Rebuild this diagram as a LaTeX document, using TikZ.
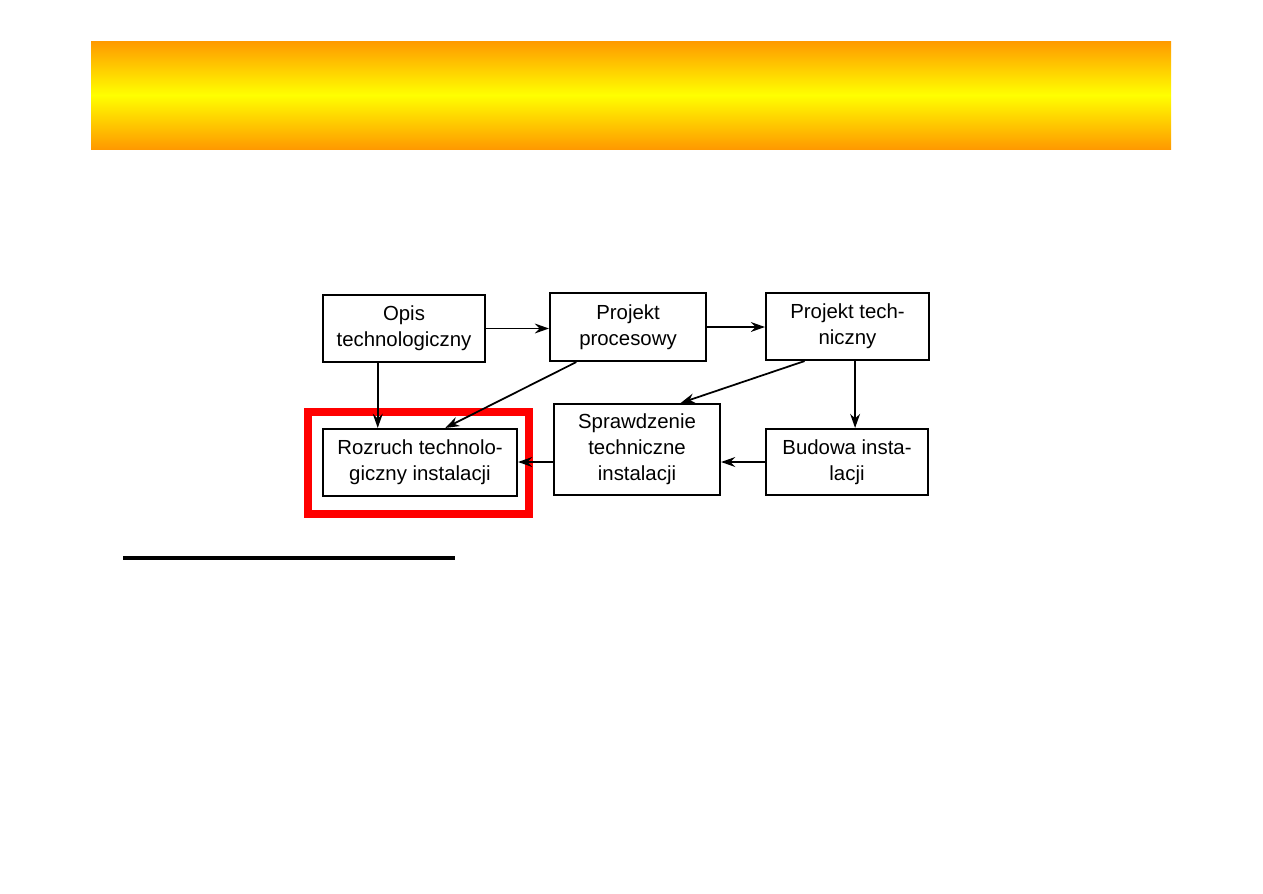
\documentclass[tikz,border=0pt]{standalone}
\usepackage{fontspec}
\setmainfont{Liberation Sans}
\usetikzlibrary{arrows.meta,calc}
\newcommand{\bt}[1]{\raisebox{-5pt}{\begin{tabular}{@{}c@{}}#1\end{tabular}}}
\begin{document}
\begin{tikzpicture}[x=0.05cm,y=-0.05cm,
  box/.style={draw=black,line width=3pt,inner sep=0pt,
    font=\fontsize{29}{37}\selectfont},
  arr/.style={line width=2.5pt,-{Stealth[length=20pt,width=14pt]}}]
\useasboundingbox[fill=white] (0,0) rectangle (1263,893);
% banner
\shade[top color={rgb,255:red,255;green,153;blue,0},bottom color={rgb,255:red,255;green,153;blue,0},middle color={rgb,255:red,255;green,255;blue,0}] (91,41) rectangle (1171,149);
% nodes
\node[box,minimum width=8.1cm,minimum height=3.35cm] (opis) at (404,328.5) {\bt{Opis\\technologiczny}};
\node[box,minimum width=7.8cm,minimum height=3.4cm] (pp) at (628,327) {\bt{Projekt\\procesowy}};
\node[box,minimum width=8.15cm,minimum height=3.35cm] (pt) at (847.5,326.5) {\bt{Projekt tech-\\niczny}};
\node[box,minimum width=9.7cm,minimum height=3.35cm] (roz) at (420,462.5) {\bt{Rozruch technolo-\\giczny instalacji}};
\node[box,minimum width=8.3cm,minimum height=4.55cm] (spr) at (637,449.5) {\bt{Sprawdzenie\\techniczne\\instalacji}};
\node[box,minimum width=8.1cm,minimum height=3.3cm] (bud) at (847,462) {\bt{Budowa insta-\\lacji}};
% highlight
\draw[line width=12pt,red] (308,412) rectangle (529,514);
% anchor points
\coordinate (o1) at ($(opis.south west)!0.34!(opis.south east)$);
\coordinate (p1) at ($(pp.south west)!0.173!(pp.south east)$);
\coordinate (r1) at ($(roz.north west)!0.629!(roz.north east)$);
\coordinate (t1) at ($(pt.south west)!0.24!(pt.south east)$);
\coordinate (s1) at ($(spr.north west)!0.76!(spr.north east)$);
\coordinate (t2) at ($(pt.south west)!0.546!(pt.south east)$);
% arrows
\draw[arr] (opis.east) -- (opis.east -| pp.west);
\draw[arr] (pp.east) -- (pp.east -| pt.west);
\draw[arr] (o1) -- (o1 |- roz.north);
\draw[arr] (p1) -- (r1);
\draw[arr] (t1) -- (s1);
\draw[arr] (t2) -- (t2 |- bud.north);
\draw[arr] (bud.west) -- (bud.west -| spr.east);
\draw[arr] (bud.west -| spr.west) -- (bud.west -| roz.east);
% rule
\draw[line width=5pt] (123,558) -- (455,558);
\end{tikzpicture}
\end{document}
